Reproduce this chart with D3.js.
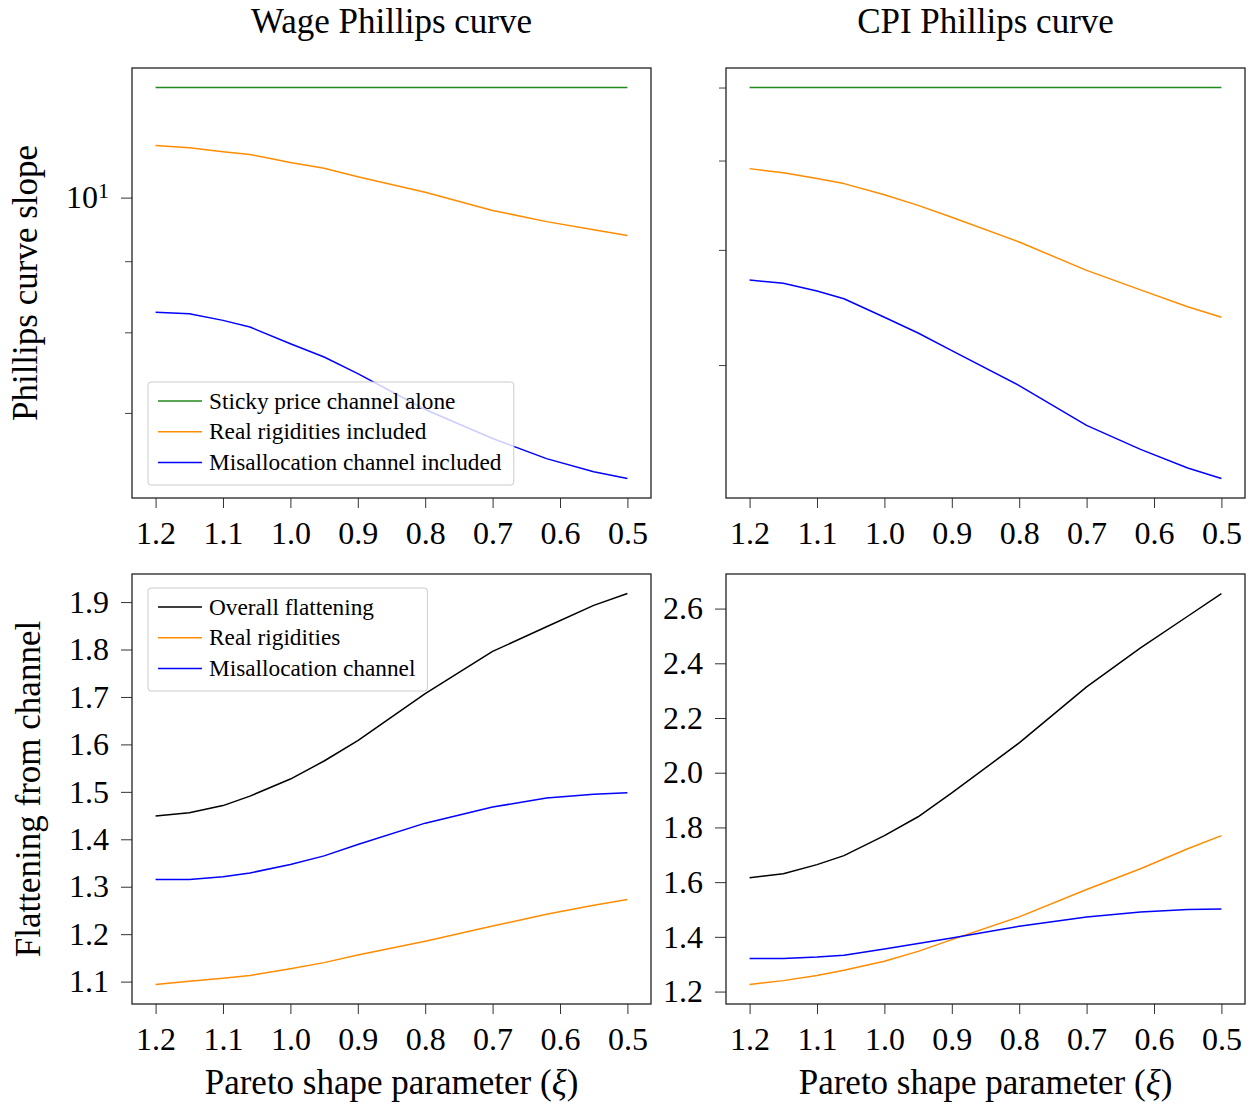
<!DOCTYPE html>
<html>
<head>
<meta charset="utf-8">
<script src="https://cdn.jsdelivr.net/npm/d3@7"></script>
<style>
  body { margin: 0; background: #fff; }
  text { font-family: "Liberation Serif", "Times New Roman", serif; fill: #000; }
</style>
</head>
<body>
<svg id="chart" width="1251" height="1105"></svg>
<script>
// Pareto shape parameter grid (x axis, drawn from high to low)
const xi = [1.2, 1.15, 1.1, 1.06, 1.0, 0.95, 0.9, 0.8, 0.7, 0.62, 0.55, 0.5];
const xTickValues = [1.2, 1.1, 1.0, 0.9, 0.8, 0.7, 0.6, 0.5];

// Phillips curve slopes, wage block (log scale)
const wageSticky   = [12.0, 12.0, 12.0, 12.0, 12.0, 12.0, 12.0, 12.0, 12.0, 12.0, 12.0, 12.0];
const wageReal     = [10.90, 10.86, 10.79, 10.74, 10.60, 10.50, 10.35, 10.09, 9.79, 9.61, 9.48, 9.39];
const wageMisalloc = [8.27, 8.25, 8.16, 8.07, 7.85, 7.68, 7.47, 7.04, 6.71, 6.49, 6.35, 6.28];

// Phillips curve slopes, CPI block (log scale)
const cpiSticky    = [6.0, 6.0, 6.0, 6.0, 6.0, 6.0, 6.0, 6.0, 6.0, 6.0, 6.0, 6.0];
const cpiReal      = [4.90, 4.85, 4.78, 4.72, 4.59, 4.47, 4.34, 4.08, 3.80, 3.62, 3.47, 3.38];
const cpiMisalloc  = [3.71, 3.68, 3.61, 3.54, 3.38, 3.25, 3.11, 2.85, 2.58, 2.43, 2.32, 2.26];

// Flattening attributable to each channel, wage block
const wageOverallFlat  = [1.449, 1.456, 1.471, 1.491, 1.527, 1.565, 1.608, 1.707, 1.796, 1.848, 1.893, 1.918];
const wageRealFlat     = [1.094, 1.101, 1.107, 1.113, 1.127, 1.140, 1.156, 1.185, 1.217, 1.242, 1.261, 1.273];
const wageMisallocFlat = [1.315, 1.315, 1.321, 1.329, 1.347, 1.365, 1.389, 1.434, 1.468, 1.487, 1.495, 1.498];

// Flattening attributable to each channel, CPI block
const cpiOverallFlat  = [1.616, 1.631, 1.664, 1.697, 1.770, 1.839, 1.926, 2.109, 2.314, 2.456, 2.572, 2.655];
const cpiRealFlat     = [1.226, 1.240, 1.259, 1.278, 1.311, 1.347, 1.390, 1.473, 1.573, 1.649, 1.722, 1.770];
const cpiMisallocFlat = [1.321, 1.321, 1.326, 1.333, 1.356, 1.376, 1.396, 1.439, 1.473, 1.491, 1.500, 1.502];

// Tick values
const wageSlopeMajor = [10];
const wageSlopeMinor = [7, 8, 9];
const cpiSlopeMinor  = [3, 4, 5, 6];
const wageFlatTicks  = [1.1, 1.2, 1.3, 1.4, 1.5, 1.6, 1.7, 1.8, 1.9];
const cpiFlatTicks   = [1.2, 1.4, 1.6, 1.8, 2.0, 2.2, 2.4, 2.6];

// Titles and labels
const colTitles = ["Wage Phillips curve", "CPI Phillips curve"];
const slopeLabel = "Phillips curve slope";
const flatLabel = "Flattening from channel";
const slopeLegend = ["Sticky price channel alone", "Real rigidities included", "Misallocation channel included"];
const flatLegend = ["Overall flattening", "Real rigidities", "Misallocation channel"];

const GREEN = "#1f8a1f", ORANGE = "#ff8c00", BLUE = "#0000ff", BLACK = "#000000";

const svg = d3.select("#chart");

const cols = [{ x0: 132, x1: 651 }, { x0: 726, x1: 1245 }];
const rows = [{ y0: 68, y1: 498 }, { y0: 574, y1: 1004 }];

const panels = [
  { c: 0, r: 0, log: true, series: [[wageSticky, GREEN], [wageReal, ORANGE], [wageMisalloc, BLUE]],
    major: wageSlopeMajor, minor: wageSlopeMinor, ylabel: slopeLabel, legend: slopeLegend, title: colTitles[0] },
  { c: 1, r: 0, log: true, series: [[cpiSticky, GREEN], [cpiReal, ORANGE], [cpiMisalloc, BLUE]],
    major: [], minor: cpiSlopeMinor, title: colTitles[1] },
  { c: 0, r: 1, log: false, series: [[wageOverallFlat, BLACK], [wageRealFlat, ORANGE], [wageMisallocFlat, BLUE]],
    ticks: wageFlatTicks, ylabel: flatLabel, legend: flatLegend, xlabel: true },
  { c: 1, r: 1, log: false, series: [[cpiOverallFlat, BLACK], [cpiRealFlat, ORANGE], [cpiMisallocFlat, BLUE]],
    ticks: cpiFlatTicks, xlabel: true }
];

// x scale with 5% padding on each side, reversed direction
const xMin = d3.min(xi), xMax = d3.max(xi), xPad = (xMax - xMin) * 0.05;

panels.forEach(p => {
  const { x0, x1 } = cols[p.c];
  const { y0, y1 } = rows[p.r];
  const g = svg.append("g");

  const x = d3.scaleLinear().domain([xMax + xPad, xMin - xPad]).range([x0, x1]);

  const all = p.series.flatMap(s => s[0]);
  let y;
  if (p.log) {
    const lmin = Math.log10(d3.min(all)), lmax = Math.log10(d3.max(all));
    const pad = (lmax - lmin) * 0.05;
    y = d3.scaleLog().domain([10 ** (lmin - pad), 10 ** (lmax + pad)]).range([y1, y0]);
  } else {
    const vmin = d3.min(all), vmax = d3.max(all);
    const pad = (vmax - vmin) * 0.05;
    y = d3.scaleLinear().domain([vmin - pad, vmax + pad]).range([y1, y0]);
  }

  // series lines
  const line = d3.line().x((d, i) => x(xi[i])).y(d => y(d));
  p.series.forEach(([vals, col]) => {
    g.append("path").datum(vals)
      .attr("fill", "none").attr("stroke", col).attr("stroke-width", 1.5)
      .attr("stroke-linejoin", "round")
      .attr("d", line);
  });

  // x axis
  const xa = g.append("g").attr("transform", `translate(0,${y1})`)
    .call(d3.axisBottom(x).tickValues(xTickValues).tickFormat(d3.format(".1f")).tickSize(10).tickPadding(13));
  xa.select(".domain").remove();
  xa.selectAll("line").attr("stroke", "#333").attr("stroke-width", 1);
  xa.selectAll("text").style("font-size", "32px");

  // y axis
  if (p.log) {
    if (p.major.length) {
      const ya = g.append("g").attr("transform", `translate(${x0},0)`)
        .call(d3.axisLeft(y).tickValues(p.major).tickSize(11).tickPadding(12).tickFormat(() => ""));
      ya.select(".domain").remove();
      ya.selectAll("line").attr("stroke", "#333").attr("stroke-width", 1);
      ya.selectAll("text").style("font-size", "32px").each(function (d) {
        const t = d3.select(this);
        t.text("10");
        t.append("tspan").attr("dy", "-0.45em").style("font-size", "22px").text(String(Math.round(Math.log10(d))));
      });
    }
    const ym = g.append("g").attr("transform", `translate(${x0},0)`)
      .call(d3.axisLeft(y).tickValues(p.minor).tickSize(7).tickFormat(() => ""));
    ym.select(".domain").remove();
    ym.selectAll("line").attr("stroke", "#444").attr("stroke-width", 1);
  } else {
    const ya = g.append("g").attr("transform", `translate(${x0},0)`)
      .call(d3.axisLeft(y).tickValues(p.ticks).tickFormat(d3.format(".1f")).tickSize(11).tickPadding(12));
    ya.select(".domain").remove();
    ya.selectAll("line").attr("stroke", "#333").attr("stroke-width", 1);
    ya.selectAll("text").style("font-size", "32px");
  }

  // frame
  g.append("rect").attr("x", x0).attr("y", y0).attr("width", x1 - x0).attr("height", y1 - y0)
    .attr("fill", "none").attr("stroke", "#222").attr("stroke-width", 1.3);

  // column title
  if (p.title) {
    svg.append("text").attr("x", (x0 + x1) / 2).attr("y", 33).attr("text-anchor", "middle")
      .style("font-size", "35px").text(p.title);
  }

  // y label
  if (p.ylabel) {
    const bx = p.r === 0 ? 37 : 40;
    svg.append("text").attr("transform", `translate(${bx},${(y0 + y1) / 2}) rotate(-90)`)
      .attr("text-anchor", "middle").style("font-size", "35px").text(p.ylabel);
  }

  // x label
  if (p.xlabel) {
    const t = svg.append("text").attr("x", (x0 + x1) / 2).attr("y", 1094).attr("text-anchor", "middle")
      .style("font-size", "35px");
    t.append("tspan").text("Pareto shape parameter (");
    t.append("tspan").style("font-style", "italic").text("\u03BE");
    t.append("tspan").text(")");
  }

  // legend
  if (p.legend) {
    const lx = x0 + 16, ly = y0 + (p.r === 0 ? 314 : 14);
    const lg = g.append("g");
    const box = lg.append("rect").attr("x", lx).attr("y", ly).attr("height", 103)
      .attr("rx", 3).attr("fill", "#fff").attr("fill-opacity", 0.8)
      .attr("stroke", "#cccccc").attr("stroke-width", 1);
    let maxRight = 0;
    p.legend.forEach((lab, i) => {
      const cy = ly + 19 + i * 30.8;
      lg.append("line").attr("x1", lx + 10).attr("x2", lx + 54).attr("y1", cy).attr("y2", cy)
        .attr("stroke", p.series[i][1]).attr("stroke-width", 1.5);
      const t = lg.append("text").attr("x", lx + 61).attr("y", cy + 7.5)
        .style("font-size", "23.3px").text(lab);
      const bb = t.node().getBBox();
      maxRight = Math.max(maxRight, bb.x + bb.width);
    });
    box.attr("width", maxRight + 12 - lx);
  }
});
</script>
</body>
</html>
